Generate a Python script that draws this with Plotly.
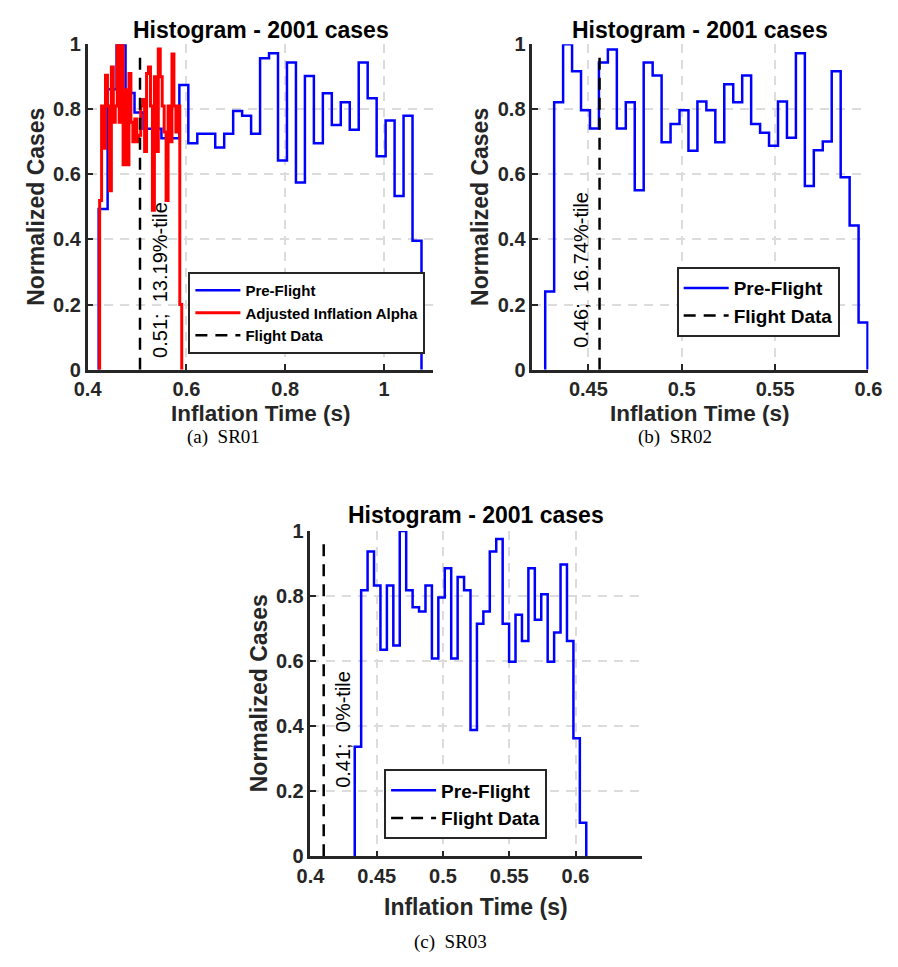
import plotly.graph_objects as go

# ---------------- Data ----------------
# Panel (a) SR01
A_PRE_START = 0.4223
A_PRE_WIDTH = 0.01815
A_PRE_VALUES = [0.494, 0.862, 1.0, 0.85, 0.79, 0.74, 0.74, 0.711, 0.711, 0.875,
                0.696, 0.725, 0.725, 0.683, 0.725, 0.795, 0.78, 0.725, 0.957, 0.972,
                0.643, 0.944, 0.575, 0.902, 0.696, 0.849, 0.752, 0.822, 0.737, 0.944,
                0.834, 0.656, 0.766, 0.534, 0.78, 0.396]
A_ALPHA_START = 0.4243
A_ALPHA_WIDTH = 0.003957
A_ALPHA_VALUES = [0.52, 0.81, 0.68, 0.905, 0.81, 0.55, 0.93, 0.76, 0.81, 1.0,
                  0.76, 1.0, 0.63, 0.86, 0.63, 0.91, 0.76, 0.70, 0.77, 0.70,
                  0.72, 0.81, 0.83, 0.67, 0.91, 0.93, 0.81, 0.49, 0.90, 0.67,
                  0.985, 0.90, 0.81, 0.73, 0.52, 0.81, 0.70, 0.97, 0.81, 0.73,
                  0.81, 0.2]
A_FLIGHT = 0.506
A_LABEL = "0.51;\u00a0 13.19%-tile"

# Panel (b) SR02
B_PRE_START = 0.4269
B_PRE_WIDTH = 0.004794
B_PRE_VALUES = [0.240, 0.822, 1.0, 0.917, 0.797, 0.741, 0.944, 0.984, 0.741, 0.822,
                0.551, 0.944, 0.904, 0.699, 0.755, 0.797, 0.673, 0.824, 0.797, 0.699,
                0.877, 0.822, 0.904, 0.755, 0.728, 0.688, 0.824, 0.713, 0.972, 0.564,
                0.674, 0.701, 0.917, 0.591, 0.443, 0.145]
B_FLIGHT = 0.456
B_LABEL = "0.46;\u00a0 16.74%-tile"

# Panel (c) SR03
C_PRE_START = 0.4334
C_PRE_WIDTH = 0.004853
C_PRE_VALUES = [0.337, 0.818, 0.937, 0.832, 0.635, 0.832, 0.648, 1.0, 0.818, 0.765,
                0.752, 0.832, 0.608, 0.795, 0.885, 0.608, 0.858, 0.818, 0.388, 0.715,
                0.752, 0.937, 0.975, 0.715, 0.598, 0.742, 0.662, 0.885, 0.727, 0.805,
                0.598, 0.688, 0.897, 0.662, 0.363, 0.103]
C_FLIGHT = 0.41
C_LABEL = "0.41;\u00a0 0%-tile"

FLIGHT_TOP = 0.97

TITLE = "Histogram - 2001 cases"
XLABEL = "Inflation Time (s)"
YLABEL = "Normalized Cases"
Y_TICKS = [0, 0.2, 0.4, 0.6, 0.8, 1]
A_XTICKS = [0.4, 0.6, 0.8, 1.0]
B_XTICKS = [0.45, 0.5, 0.55, 0.6]
C_XTICKS = [0.4, 0.45, 0.5, 0.55, 0.6]
CAPTIONS = ["(a)\u00a0 SR01", "(b)\u00a0 SR02", "(c)\u00a0 SR03"]

# ---------------- Helpers ----------------
W, H = 898, 967


def stairs(start, width, values):
    edges = [start + i * width for i in range(len(values) + 1)]
    x = [edges[0]] + edges[:-1] + [edges[-1]]
    y = [0] + list(values) + [0]
    return x, y


def px_x(p):
    return p / W


def px_y(p):
    return 1 - p / H


SANS = "Liberation Sans"
DARK = "#262626"
BLUE = "#0000FF"
RED = "#FF0000"

fig = go.Figure()

panels = [
    dict(xa="x", ya="y", leg="legend", pre=(A_PRE_START, A_PRE_WIDTH, A_PRE_VALUES),
         alpha=(A_ALPHA_START, A_ALPHA_WIDTH, A_ALPHA_VALUES), flight=A_FLIGHT),
    dict(xa="x2", ya="y2", leg="legend2", pre=(B_PRE_START, B_PRE_WIDTH, B_PRE_VALUES),
         alpha=None, flight=B_FLIGHT),
    dict(xa="x3", ya="y3", leg="legend3", pre=(C_PRE_START, C_PRE_WIDTH, C_PRE_VALUES),
         alpha=None, flight=C_FLIGHT),
]

for p in panels:
    x, y = stairs(*p["pre"])
    fig.add_trace(go.Scatter(x=x, y=y, mode="lines", line_shape="hv",
                             line=dict(color=BLUE, width=2.5), name="Pre-Flight",
                             xaxis=p["xa"], yaxis=p["ya"], legend=p["leg"]))
    if p["alpha"] is not None:
        x, y = stairs(*p["alpha"])
        fig.add_trace(go.Scatter(x=x, y=y, mode="lines", line_shape="hv",
                                 line=dict(color=RED, width=3),
                                 name="Adjusted Inflation Alpha",
                                 xaxis=p["xa"], yaxis=p["ya"], legend=p["leg"]))
    fig.add_trace(go.Scatter(x=[p["flight"], p["flight"]], y=[0, FLIGHT_TOP], mode="lines",
                             line=dict(color="black", width=2.5, dash="12px,8px"),
                             name="Flight Data", xaxis=p["xa"], yaxis=p["ya"],
                             legend=p["leg"]))

# ---------------- Axes ----------------
axis_common = dict(showline=True, linecolor=DARK, linewidth=2.5, ticks="inside",
                   ticklen=6, tickwidth=2, tickcolor=DARK, showgrid=True,
                   gridcolor="#dcdcdc", gridwidth=2, griddash="9px,7px",
                   zeroline=False,
                   tickfont=dict(family=SANS, size=20, color=DARK, weight="bold"))

ab_y = [px_y(367), px_y(34)]
c_y = [px_y(865), px_y(532)]

fig.update_layout(
    xaxis=dict(domain=[px_x(76), px_x(433)], range=[0.4, 1.1], tickvals=A_XTICKS,
               anchor="y", **axis_common),
    yaxis=dict(domain=ab_y, range=[0, 1], tickvals=Y_TICKS, anchor="x", **axis_common),
    xaxis2=dict(domain=[px_x(535), px_x(882)], range=[0.42, 0.6], tickvals=B_XTICKS,
                anchor="y2", **axis_common),
    yaxis2=dict(domain=ab_y, range=[0, 1], tickvals=Y_TICKS, anchor="x2", **axis_common),
    xaxis3=dict(domain=[px_x(306), px_x(648)], range=[0.4, 0.65], tickvals=C_XTICKS,
                anchor="y3", **axis_common),
    yaxis3=dict(domain=c_y, range=[0, 1], tickvals=Y_TICKS, anchor="x3", **axis_common),
)

# ---------------- Legends ----------------
leg_common = dict(bgcolor="white", bordercolor=DARK, borderwidth=2, xanchor="left",
                  yanchor="top", itemwidth=45, tracegroupgap=0)
fig.update_layout(
    legend=dict(x=px_x(180), y=px_y(267),
                font=dict(family=SANS, size=15, color="black", weight="bold"), **leg_common),
    legend2=dict(x=px_x(684), y=px_y(262),
                 font=dict(family=SANS, size=19, color="black", weight="bold"), **leg_common),
    legend3=dict(x=px_x(382), y=px_y(776),
                 font=dict(family=SANS, size=19, color="black", weight="bold"), **leg_common),
)

# ---------------- Text ----------------
ann = []
title_font = dict(family=SANS, size=23, color="black", weight="bold")
label_font = dict(family=SANS, size=23, color=DARK, weight="bold")
xlabel_ab_font = dict(family=SANS, size=22.5, color=DARK, weight="bold")
for cx, ty in [(254.5, 19), (708.5, 19), (477, 516)]:
    ann.append(dict(text=TITLE, x=px_x(cx), y=px_y(ty), xref="paper", yref="paper",
                    xanchor="center", yanchor="middle", showarrow=False, font=title_font))
for cx, ty, f in [(254.5, 411.5, xlabel_ab_font), (708.5, 411.5, xlabel_ab_font),
                  (477, 917, label_font)]:
    ann.append(dict(text=XLABEL, x=px_x(cx), y=px_y(ty), xref="paper", yref="paper",
                    xanchor="center", yanchor="middle", showarrow=False, font=f))
for cx, cy in [(22.5, 200.5), (481, 200.5), (252.5, 698.5)]:
    ann.append(dict(text=YLABEL, x=px_x(cx), y=px_y(cy), xref="paper", yref="paper",
                    xanchor="center", yanchor="middle", textangle=-90, showarrow=False,
                    font=label_font))
for text, cx, cy in [(CAPTIONS[0], 216, 435.5), (CAPTIONS[1], 682, 435.5),
                     (CAPTIONS[2], 451, 953)]:
    ann.append(dict(text=text, x=px_x(cx), y=px_y(cy), xref="paper", yref="paper",
                    xanchor="center", yanchor="middle", showarrow=False,
                    font=dict(family="Liberation Serif", size=19, color="black")))
pct_font = dict(family=SANS, size=20, color="black")
for text, xv, xa, ya, yb, shift in [(A_LABEL, A_FLIGHT, "x", "y", 0.03, 20),
                                    (B_LABEL, B_FLIGHT, "x2", "y2", 0.06, -18),
                                    (C_LABEL, C_FLIGHT, "x3", "y3", 0.205, 19)]:
    ann.append(dict(text=text, x=xv, y=yb, xref=xa, yref=ya, xanchor="center",
                    yanchor="bottom", textangle=-90, showarrow=False, xshift=shift,
                    font=pct_font))

fig.update_layout(
    annotations=ann,
    width=W, height=H, autosize=False,
    margin=dict(l=0, r=0, t=0, b=0),
    paper_bgcolor="white", plot_bgcolor="white",
    showlegend=True,
)

fig.write_html("out.html")
